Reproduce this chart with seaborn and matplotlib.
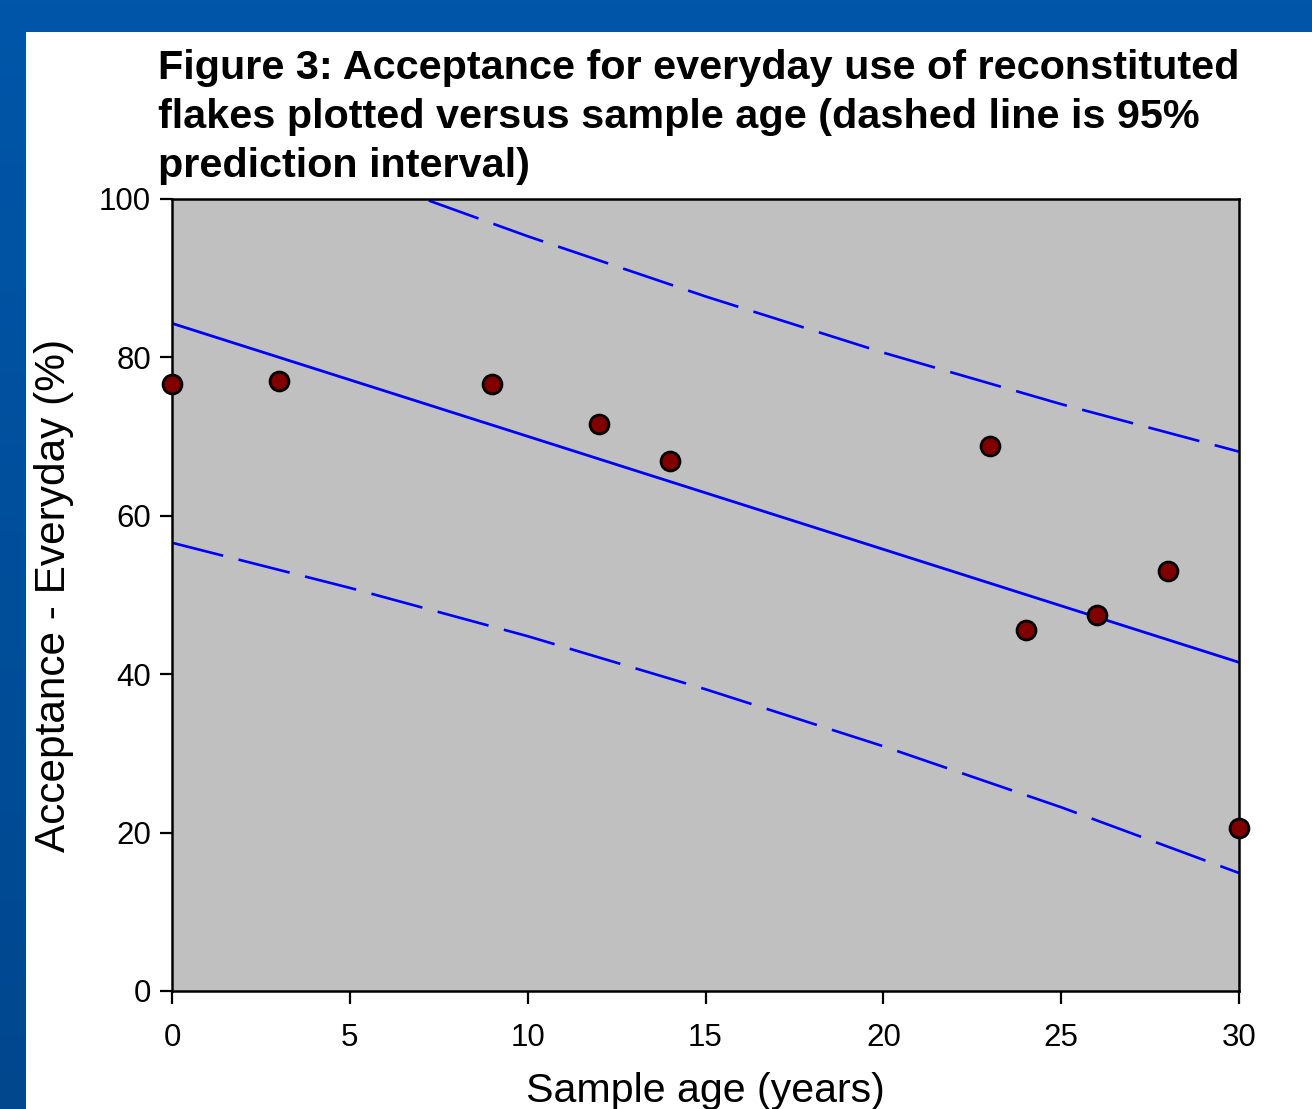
import numpy as np
import pandas as pd
import matplotlib
matplotlib.use("Agg")
import matplotlib.pyplot as plt
import seaborn as sns

# ---- data ----
sample_age = [0, 3, 9, 12, 14, 23, 24, 26, 28, 30]
acceptance = [76.6, 77.0, 76.6, 71.6, 66.9, 68.8, 45.6, 47.5, 53.0, 20.6]

fit_x = [0, 30]
fit_y = [84.3, 41.5]

band_x = [0, 5, 10, 15, 20, 25, 30]
band_upper = [112.0, 103.4, 95.3, 87.7, 80.6, 74.1, 68.1]
band_lower = [56.6, 50.9, 44.8, 38.1, 30.9, 23.2, 14.9]

x_ticks = [0, 5, 10, 15, 20, 25, 30]
y_ticks = [0, 20, 40, 60, 80, 100]

title = ("Figure 3: Acceptance for everyday use of reconstituted\n"
         "flakes plotted versus sample age (dashed line is 95%\n"
         "prediction interval)")
xlabel = "Sample age (years)"
ylabel = "Acceptance - Everyday (%)"

# ---- style ----
sns.set_style("white")
plt.rcParams['font.family'] = ['Liberation Sans', 'DejaVu Sans']
plt.rcParams['text.color'] = 'black'
plt.rcParams['axes.labelcolor'] = 'black'

W, H = 1312, 1109
fig = plt.figure(figsize=(W / 100, H / 100), dpi=100)
fig.patch.set_facecolor('#0053A6')

# background: blue slide frame with white panel
bg = fig.add_axes([0, 0, 1, 1], zorder=-10)
grad = np.linspace(0, 1, 256).reshape(-1, 1)
top_c = np.array([0x00, 0x56, 0xA9]) / 255
bot_c = np.array([0x00, 0x47, 0x8E]) / 255
img = top_c[None, None, :] * (1 - grad[:, :, None]) + bot_c[None, None, :] * grad[:, :, None]
bg.imshow(img, aspect='auto', extent=[0, 1, 0, 1], origin='upper')
bg.add_patch(plt.Rectangle((26 / W, 0), 1 - 26 / W, 1 - 32 / H,
                           facecolor='white', edgecolor='none'))
bg.set_xlim(0, 1)
bg.set_ylim(0, 1)
bg.axis('off')

ax = fig.add_axes([172 / W, 1 - 991 / H, (1239 - 172) / W, (991 - 199) / H])
ax.set_facecolor('#C0C0C0')

df_pts = pd.DataFrame({'age': sample_age, 'acc': acceptance})
df_fit = pd.DataFrame({'age': fit_x, 'acc': fit_y})
df_up = pd.DataFrame({'age': band_x, 'acc': band_upper})
df_lo = pd.DataFrame({'age': band_x, 'acc': band_lower})

sns.lineplot(data=df_fit, x='age', y='acc', ax=ax, color='#0000FF', lw=2.0, zorder=2)
sns.lineplot(data=df_up, x='age', y='acc', ax=ax, color='#0000FF', lw=1.9,
             linestyle=(0, (20, 6)), zorder=2)
sns.lineplot(data=df_lo, x='age', y='acc', ax=ax, color='#0000FF', lw=1.9,
             linestyle=(0, (20, 6)), zorder=2)
sns.scatterplot(data=df_pts, x='age', y='acc', ax=ax, s=185, color='#800000',
                edgecolor='black', linewidth=2.0, zorder=5, clip_on=False)

ax.set_xlim(0, 30)
ax.set_ylim(0, 100)
ax.set_xticks(x_ticks)
ax.set_yticks(y_ticks)
ax.tick_params(axis='both', direction='out', length=9, width=1.6, colors='black',
               labelsize=22.5, pad=6, top=False, right=False, bottom=True, left=True)
ax.tick_params(axis='x', pad=14)
for s in ax.spines.values():
    s.set_color('black')
    s.set_linewidth(1.8)

ax.set_xlabel(xlabel, fontsize=29.6, labelpad=14)
ax.set_ylabel(ylabel, fontsize=30.5, labelpad=18)

fig.text(158 / W, 1 - 49 / H, title, ha='left', va='top', fontsize=29.8,
         fontweight='bold', linespacing=1.36)

fig.savefig('out.png', dpi=100, facecolor=fig.get_facecolor())
